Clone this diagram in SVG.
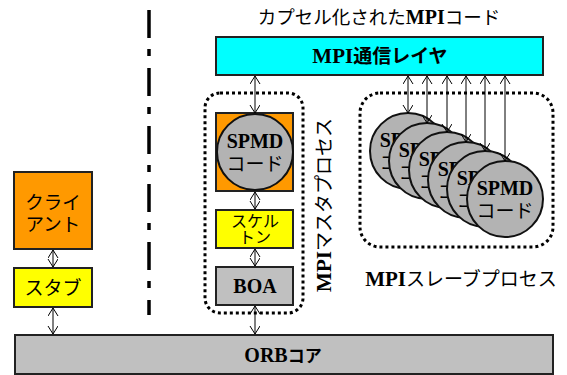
<svg xmlns="http://www.w3.org/2000/svg" width="567" height="375" viewBox="0 0 567 375">
<defs>
<style>
.box{stroke:#222;stroke-width:2}
.orange{fill:#ff9900}
.yellow{fill:#ffff00}
.grey{fill:#c0c0c0}
.cyan{fill:#00ffff}
.circ{fill:#b3b3b3;stroke:#111;stroke-width:2}
.dots{fill:none;stroke:#000;stroke-width:3;stroke-dasharray:3 3}
.jp{font-family:"Noto Sans CJK JP","Noto Sans",sans-serif;fill:#000}
.lat{font-family:"Liberation Serif",serif;font-weight:bold}
.arr{stroke:#000;stroke-width:1;fill:none;marker-start:url(#ah);marker-end:url(#ah)}
</style>
<marker id="ah" markerUnits="userSpaceOnUse" markerWidth="12" markerHeight="12" refX="9" refY="5" orient="auto-start-reverse" viewBox="0 0 12 12">
<path d="M1,0 L9,5 L1,10" fill="none" stroke="#000" stroke-width="1"/>
</marker>
</defs>
<rect width="567" height="375" fill="#fff"/>

<line x1="149" y1="10" x2="149" y2="315" stroke="#000" stroke-width="3.5" stroke-dasharray="28 11 7 12"/>

<text class="jp" x="379" y="24" font-size="18.5" text-anchor="middle">カプセル化された<tspan class="lat" font-size="20">MPI</tspan>コード</text>

<g id="mpi-layer">
<rect class="box cyan" x="216" y="37" width="327" height="38"/>
<text class="jp" x="380" y="63" font-size="19" font-weight="bold" text-anchor="middle"><tspan class="lat" font-size="21">MPI</tspan>通信レイヤ</text>
</g>

<g id="client">
<rect class="box orange" x="14" y="172" width="78" height="77"/>
<text class="jp" x="53" y="209" font-size="18.5" text-anchor="middle">クライ</text>
<text class="jp" x="53" y="231" font-size="18.5" text-anchor="middle">アント</text>
</g>

<g id="stub">
<rect class="box yellow" x="14" y="268" width="78" height="39"/>
<text class="jp" x="53" y="295" font-size="19" text-anchor="middle">スタブ</text>
</g>

<g id="orb">
<rect class="box grey" x="15" y="335" width="538" height="39"/>
<text class="jp" x="283" y="362" font-size="17" font-weight="bold" text-anchor="middle"><tspan class="lat" font-size="20">ORB</tspan>コア</text>
</g>

<g id="master-process">
<rect class="dots" x="205" y="93" width="98" height="220" rx="15" ry="15"/>
<text class="jp" transform="translate(331,205) rotate(-90)" font-size="19" text-anchor="middle"><tspan class="lat" font-size="21">MPI</tspan>マスタプロセス</text>
</g>

<g id="master-spmd">
<rect class="box orange" x="216" y="113" width="77" height="78"/>
<circle class="circ" cx="255" cy="152" r="38"/>
<text class="jp lat" x="255" y="148" font-size="20" text-anchor="middle">SPMD</text>
<text class="jp" x="255" y="171" font-size="19" text-anchor="middle">コード</text>
</g>

<g id="skeleton">
<rect class="box yellow" x="216" y="210" width="77" height="38"/>
<text class="jp" x="255" y="227" font-size="16" text-anchor="middle">スケル</text>
<text class="jp" x="255" y="243" font-size="16" text-anchor="middle">トン</text>
</g>

<g id="boa">
<rect class="box grey" x="216" y="267" width="77" height="38"/>
<text class="jp lat" x="255" y="293" font-size="20" text-anchor="middle">BOA</text>
</g>

<g id="slave-process">
<rect class="dots" x="360" y="93" width="193" height="154" rx="20" ry="20"/>
<text class="jp" x="461" y="286" font-size="19" text-anchor="middle"><tspan class="lat" font-size="21">MPI</tspan>スレーブプロセス</text>
</g>

<g id="slave1">
<circle class="circ" cx="408" cy="151" r="38"/>
<text class="jp lat" x="408" y="147" font-size="20" text-anchor="middle">SPMD</text>
<text class="jp" x="408" y="170" font-size="19" text-anchor="middle">コード</text>
</g>
<g id="slave2">
<circle class="circ" cx="427" cy="161" r="38"/>
<text class="jp lat" x="427" y="157" font-size="20" text-anchor="middle">SPMD</text>
<text class="jp" x="427" y="180" font-size="19" text-anchor="middle">コード</text>
</g>
<g id="slave3">
<circle class="circ" cx="447" cy="170" r="38"/>
<text class="jp lat" x="447" y="166" font-size="20" text-anchor="middle">SPMD</text>
<text class="jp" x="447" y="189" font-size="19" text-anchor="middle">コード</text>
</g>
<g id="slave4">
<circle class="circ" cx="466" cy="180" r="38"/>
<text class="jp lat" x="466" y="176" font-size="20" text-anchor="middle">SPMD</text>
<text class="jp" x="466" y="199" font-size="19" text-anchor="middle">コード</text>
</g>
<g id="slave5">
<circle class="circ" cx="485" cy="189" r="38"/>
<text class="jp lat" x="485" y="185" font-size="20" text-anchor="middle">SPMD</text>
<text class="jp" x="485" y="208" font-size="19" text-anchor="middle">コード</text>
</g>
<g id="slave6">
<circle class="circ" cx="505" cy="199" r="38"/>
<text class="jp lat" x="505" y="195" font-size="20" text-anchor="middle">SPMD</text>
<text class="jp" x="505" y="218" font-size="19" text-anchor="middle">コード</text>
</g>

<g id="connectors">
<line class="arr" x1="53" y1="250" x2="53" y2="267"/>
<line class="arr" x1="53" y1="308" x2="53" y2="334"/>
<line class="arr" x1="255" y1="76" x2="255" y2="113"/>
<line class="arr" x1="255" y1="192" x2="255" y2="209"/>
<line class="arr" x1="255" y1="249" x2="255" y2="266"/>
<line class="arr" x1="255" y1="306" x2="255" y2="334"/>
<line class="arr" x1="408" y1="76" x2="408" y2="113"/>
<line class="arr" x1="427" y1="76" x2="427" y2="123"/>
<line class="arr" x1="447" y1="76" x2="447" y2="132"/>
<line class="arr" x1="466" y1="76" x2="466" y2="142"/>
<line class="arr" x1="485" y1="76" x2="485" y2="151"/>
<line class="arr" x1="505" y1="76" x2="505" y2="161"/>
</g>
</svg>
